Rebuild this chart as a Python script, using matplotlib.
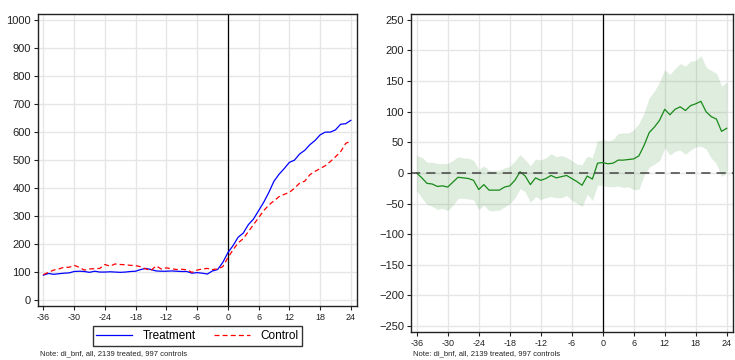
import numpy as np
import matplotlib.pyplot as plt

plt.rcParams['font.family'] = ['Liberation Sans', 'DejaVu Sans']

months = np.arange(-36, 25)

treatment = [90, 96, 93, 95, 97, 98, 103, 104, 103, 100, 104, 101, 101, 102, 101,
             100, 101, 103, 104, 110, 114, 110, 105, 104, 104, 105, 104, 103, 103,
             97, 99, 97, 94, 105, 110, 135, 170, 195, 225, 240, 270, 290, 320, 350,
             385, 425, 450, 470, 492, 500, 522, 535, 555, 570, 590, 600, 600, 608,
             628, 630, 642]
control = [92, 100, 108, 112, 118, 118, 125, 118, 108, 112, 113, 114, 128, 122, 130,
           128, 127, 125, 124, 120, 112, 107, 123, 112, 116, 113, 110, 111, 109,
           100, 108, 112, 114, 110, 112, 120, 152, 180, 205, 220, 245, 270, 295, 320,
           340, 355, 370, 378, 385, 400, 418, 425, 448, 460, 470, 480, 495, 512,
           530, 560, 568]

diff = [0, -8, -17, -18, -22, -21, -23, -15, -7, -8, -9, -12, -27, -19, -28, -28,
        -28, -23, -21, -12, 2, -5, -19, -8, -12, -9, -4, -8, -6, -4, -9, -14, -20,
        -5, -10, 16, 17, 15, 16, 21, 21, 22, 23, 28, 45, 66, 75, 86, 104, 95, 104,
        108, 102, 110, 113, 117, 100, 92, 88, 68, 73]
upper = [28, 25, 17, 17, 15, 15, 15, 20, 26, 24, 24, 20, 5, 11, 4, 3, 4, 8, 10, 19,
         29, 21, 11, 22, 21, 24, 31, 26, 28, 25, 20, 14, 13, 27, 24, 52, 54, 52, 54,
         64, 65, 65, 70, 80, 97, 122, 133, 148, 168, 160, 170, 178, 174, 182, 183,
         191, 172, 167, 162, 141, 148]
lower = [-28, -40, -51, -54, -59, -57, -61, -52, -41, -41, -42, -43, -59, -52, -61,
         -61, -60, -55, -50, -40, -25, -30, -47, -38, -43, -40, -38, -40, -40, -36,
         -44, -49, -54, -34, -44, -19, -20, -22, -22, -21, -23, -22, -27, -26, -3,
         10, 15, 21, 42, 30, 36, 38, 31, 38, 43, 44, 40, 25, 16, -5, 0]

xticks = list(range(-36, 25, 6))
note = "Note: di_bnf, all, 2139 treated, 997 controls"

fig = plt.figure(figsize=(7.35, 3.6), dpi=100)
ax1 = fig.add_axes([0.0517, 0.15, 0.434, 0.811])
ax2 = fig.add_axes([0.5592, 0.078, 0.438, 0.883])

for ax in (ax1, ax2):
    ax.set_xticks(xticks)
    ax.set_xticklabels([str(t) for t in xticks])
    ax.grid(True, color='#e6e6e6', linewidth=1.0)
    ax.set_axisbelow(True)
    ax.tick_params(axis='x', labelsize=6.5, length=3, width=0.8, pad=2, colors='#222222')
    ax.tick_params(axis='y', labelsize=8, length=3, width=0.8, pad=2, colors='#222222')
    for s in ax.spines.values():
        s.set_color('#222222')
        s.set_linewidth(1.0)
    ax.axvline(0, color='black', linewidth=0.9)

# left panel
ax1.plot(months, treatment, color='blue', linewidth=0.9, label='Treatment')
ax1.plot(months, control, color='red', linewidth=0.9, linestyle=(0, (4, 2.5)), label='Control')
ax1.set_xlim(-37.05, 25.2)
ax1.set_ylim(-20, 1021)
ax1.set_yticks(range(0, 1001, 100))
leg = ax1.legend(loc='upper center', bbox_to_anchor=(0.5, -0.07), ncol=2,
                 frameon=True, fancybox=False, fontsize=8.5, handlelength=3.0,
                 columnspacing=1.6, borderpad=0.3, handletextpad=0.9,
                 borderaxespad=0)
leg.get_frame().set_edgecolor('black')
leg.get_frame().set_linewidth(1.0)

# right panel
ax2.fill_between(months, lower, upper, color='#2e8b2e', alpha=0.15, linewidth=0.8,
                 edgecolor='#b8dab8')
ax2.plot(months, diff, color='#178a17', linewidth=0.9)
ax2.axhline(0, color='#444444', linewidth=1.1, linestyle=(0, (6, 4)))
ax2.set_xlim(-37.1, 25.2)
ax2.set_ylim(-259.5, 259.5)
ax2.set_yticks(range(-250, 251, 50))

fig.text(40 / 735, 1 - 354 / 360, note, fontsize=5.5, va='center', color='#222222')
fig.text(413 / 735, 1 - 354 / 360, note, fontsize=5.5, va='center', color='#222222')

fig.savefig('out.png', dpi=100)
